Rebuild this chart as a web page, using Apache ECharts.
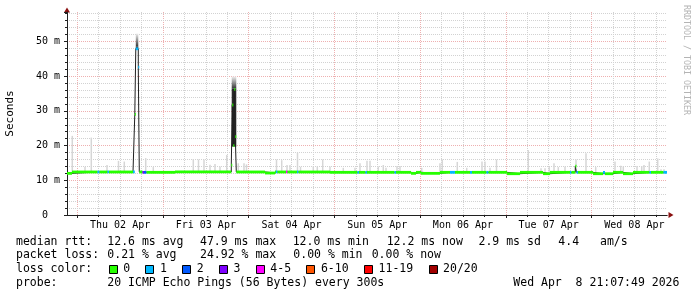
<!DOCTYPE html>
<html><head><meta charset="utf-8">
<script src="https://cdn.jsdelivr.net/npm/echarts@6/dist/echarts.min.js"></script>
<style>html,body{margin:0;padding:0;background:#fff;}#c{width:697px;height:297px;}</style>
</head><body><div id="c"></div>
<script>
// ---------------- DATA ----------------
// time unit: hours since the graph start (Wed Apr 1 2026 21:07:49), 7 days shown
const graphStart = [2026, 3, 1, 21, 7, 49];
const spanHours = 168;
const dayLabels = ['Thu 02 Apr','Fri 03 Apr','Sat 04 Apr','Sun 05 Apr','Mon 06 Apr','Tue 07 Apr','Wed 08 Apr'];
const yTicks = [0, 10, 20, 30, 40, 50];
const yTickLabels = ['0  ', '10 m', '20 m', '30 m', '40 m', '50 m'];
const yMax = 58.5;

// median rtt (ms): each entry holds from its hour until the next entry
const medianHours = [0.00,1.40,8.54,9.10,11.34,11.76,18.48,18.98,19.26,19.96,20.24,21.14,21.56,22.26,30.24,
  46.00,46.28,46.56,46.84,47.12,47.40,55.44,58.24,58.52,58.94,61.32,61.74,64.40,64.82,73.64,81.34,81.76,83.58,84.00,
  91.70,92.12,96.32,97.72,99.12,104.44,107.24,108.64,112.84,113.40,117.46,118.02,123.20,126.84,133.28,135.24,
  140.84,141.26,142.32,142.66,143.08,147.28,150.08,150.64,152.88,155.68,158.48,163.10,163.52,167.02];
const medianValues = [12.0,12.4,12.4,12.4,12.4,12.4,12.4,29.0,47.9,42.6,12.4,12.3,12.3,12.3,12.4,
  14.4,31.7,20.0,36.2,22.6,12.4,12.1,12.4,12.4,12.4,12.4,12.4,12.4,12.4,12.3,12.3,12.3,12.3,12.3,
  12.3,12.3,12.0,12.3,12.0,12.3,12.3,12.3,12.3,12.3,12.3,12.3,11.9,12.3,11.9,12.3,
  12.3,12.3,14.1,12.3,12.3,11.9,12.3,11.9,12.3,11.9,12.3,12.3,12.3,12.3];
// loss class index (0:"0",1:"1",2:"2",3:"3",4:"4-5",...)
const medianLoss = [0,0,1,0,1,0,1,0,1,1,0,3,2,0,0,
  0,0,0,0,0,0,0,0,1,0,4,0,1,0,0,1,0,1,0,
  1,0,0,0,0,0,1,0,1,0,1,0,0,0,0,0,
  1,0,0,1,0,0,1,0,0,0,0,1,0,1];

// light smoke: max ping (ms) at a few samples
const smokeHours = [1.48,5.04,6.80,11.2,14.42,16.04,22.04,24.16,35.36,36.82,38.36,40.04,41.44,42.84,44.72,47.96,49.56,50.26,
  58.66,60.12,61.6,62.44,64.54,65.38,68.96,70.08,71.6,73.64,77.36,80.64,82.04,84.0,84.84,87.16,88.56,89.32,92.4,93.24,
  99.32,104.44,105.08,109.28,111.92,116.2,117.04,118.44,120.26,129.16,132.72,133.84,135.04,136.36,137.56,139.44,
  142.52,145.32,148.04,153.44,155.04,155.76,159.6,160.92,161.56,163.04,165.4,166.32,167.16];
const smokeTop = [22.8,13.9,22.3,14.4,15.6,15.4,16.4,13.8,16.1,16.0,16.0,14.5,14.7,14.0,17.3,14.9,14.9,14.6,
  16.0,15.8,14.4,14.4,18.0,13.9,14.0,14.0,16.0,14.0,13.6,13.6,14.9,15.6,15.6,14.0,14.4,13.6,14.1,14.1,
  13.6,14.9,16.0,15.3,13.6,15.4,15.4,13.6,16.0,18.7,13.5,13.5,13.8,14.9,13.8,14.0,
  16.0,17.8,13.8,15.4,14.2,14.0,14.1,14.1,14.4,15.4,16.3,13.2,13.2];

// bursts of high latency: dense smoke from low to dense, thinning out to high
const burstStart = [19.26, 46.12];
const burstEnd = [19.96, 47.40];
const burstLow = [47.9, 19.7];
const burstDense = [48.6, 36.5];
const burstHigh = [52.3, 39.9];

const lossLabels = ['0','1','2','3','4-5','6-10','11-19','20/20'];
const lossColors = ['#26ff00','#00b8ff','#0059ff','#7e00ff','#ff00ff','#ff5500','#ff0000','#a10000'];

const rttRow = ['median rtt:','12.6 ms avg','47.9 ms max','12.0 ms min','12.2 ms now','2.9 ms sd','4.4','am/s'];
const lossRow = ['packet loss:','0.21 % avg','24.92 % max','0.00 % min','0.00 % now'];
const lossColorTitle = 'loss color:';
const probeRow = ['probe:','20 ICMP Echo Pings (56 Bytes) every 300s'];
const stampText = 'Wed Apr  8 21:07:49 2026';
const yTitle = 'Seconds';
const watermark = 'RRDTOOL / TOBI OETIKER';

// ---------------- BUILD ----------------
const startMs = new Date(...graphStart).getTime();
const hoursOf = d => (d.getTime() - startMs) / 3600000;
const midnights = [], sixHours = [], noons = [];
for (let d = 1; d <= 9; d++) {
  for (let hr = 0; hr < 24; hr += 6) {
    const h = hoursOf(new Date(2026, 3, d, hr, 0, 0));
    if (h <= 0 || h >= spanHours) continue;
    if (hr === 0) midnights.push(h); else sixHours.push(h);
    if (hr === 12) noons.push(h);
  }
}
function medianAt(h) {
  let v = medianValues[0];
  for (let i = 0; i < medianHours.length; i++) { if (medianHours[i] <= h) v = medianValues[i]; }
  return v;
}
const medianSegs = medianHours.map((h, i) => [h, i + 1 < medianHours.length ? medianHours[i + 1] : spanHours, medianValues[i], medianLoss[i]]);
const medianLine = medianHours.map((h, i) => [h, medianValues[i]]).concat([[spanHours, medianValues[medianValues.length - 1]]]);
const smokeData = smokeHours.map((h, i) => [h, medianAt(h), smokeTop[i]]);
const burstData = burstStart.map((s, i) => [s, burstEnd[i], burstLow[i], burstDense[i], burstHigh[i]]);

const MONO = '"DejaVu Sans Mono", monospace';
const AX = '#202020', ARROW = '#8a1010', GRIDC = '#d2d2d2', MGRIDC = '#eeb0b0';

const chart = echarts.init(document.getElementById('c'), null, {renderer: 'canvas', width: 697, height: 297});

const option = {
  animation: false,
  backgroundColor: '#ffffff',
  grid: {left: 67, right: 30, top: 12, bottom: 82, containLabel: false},
  xAxis: [
    {type: 'value', min: 0, max: spanHours, position: 'bottom', z: 1,
     axisLine: {show: true, onZero: false, lineStyle: {color: AX, width: 1}},
     axisTick: {show: true, customValues: sixHours, length: 2, lineStyle: {color: AX}},
     axisLabel: {show: true, customValues: noons, margin: 5, color: '#000', fontFamily: MONO, fontSize: 10,
       formatter: v => dayLabels[Math.round((v - noons[0]) / 24)] || ''},
     splitLine: {show: true, lineStyle: {color: GRIDC, type: [1, 1], width: 1}}},
    {type: 'value', min: 0, max: spanHours, position: 'bottom', z: 0,
     axisLine: {show: true, onZero: false, symbol: ['none', 'triangle'], symbolSize: [6, 5], symbolOffset: [0, 4], lineStyle: {color: ARROW, width: 1}},
     axisTick: {show: true, customValues: midnights, length: 3, lineStyle: {color: AX}},
     axisLabel: {show: false},
     splitLine: {show: true, lineStyle: {color: MGRIDC, type: [1, 1], width: 1}}}
  ],
  yAxis: [
    {type: 'value', min: 0, max: yMax, interval: 10, position: 'left', z: 1,
     axisLine: {show: true, onZero: false, lineStyle: {color: AX, width: 1}},
     axisTick: {show: true, length: 3, lineStyle: {color: AX}},
     minorTick: {show: true, splitNumber: 5, length: 2, lineStyle: {color: AX}},
     axisLabel: {margin: 7, color: '#000', fontFamily: MONO, fontSize: 10, showMaxLabel: false,
       formatter: v => { const i = yTicks.indexOf(v); return i >= 0 ? yTickLabels[i] : ''; }},
     splitLine: {show: true, showMinLine: false, showMaxLine: false, lineStyle: {color: MGRIDC, type: [1, 1], width: 1}},
     minorSplitLine: {show: true, lineStyle: {color: GRIDC, type: [1, 1], width: 1}}},
    {type: 'value', min: 0, max: yMax, position: 'left', z: 0,
     axisLine: {show: true, onZero: false, symbol: ['none', 'triangle'], symbolSize: [6, 5], symbolOffset: [0, 2], lineStyle: {color: ARROW, width: 1}},
     axisTick: {show: false}, axisLabel: {show: false}, splitLine: {show: false}}
  ],
  series: [
    {type: 'custom', name: 'smoke', xAxisIndex: 0, yAxisIndex: 0, clip: true, z: 2,
     data: smokeData, encode: {x: 0, y: [1, 2]},
     renderItem: (p, api) => {
       const a = api.coord([api.value(0), api.value(1)]);
       const b = api.coord([api.value(0), api.value(2)]);
       return {type: 'rect', shape: {x: a[0] - 0.75, y: b[1], width: 1.5, height: a[1] - b[1]}, style: {fill: '#d6d6d6'}};
     }},
    {type: 'custom', name: 'burst', xAxisIndex: 0, yAxisIndex: 0, clip: true, z: 2,
     data: burstData, encode: {x: [0, 1], y: [2, 3, 4]},
     renderItem: (p, api) => {
       const s = api.coord([api.value(0), api.value(2)]);
       const e = api.coord([api.value(1), api.value(3)]);
       const t = api.coord([api.value(1), api.value(4)]);
       return {type: 'group', children: [
         {type: 'rect', shape: {x: s[0], y: e[1], width: e[0] - s[0], height: s[1] - e[1]}, style: {fill: '#2a2a2a'}},
         {type: 'rect', shape: {x: s[0], y: t[1], width: e[0] - s[0], height: e[1] - t[1]},
          style: {fill: new echarts.graphic.LinearGradient(0, 0, 0, 1, [{offset: 0, color: '#f0f0f0'}, {offset: 1, color: '#3a3a3a'}])}}
       ]};
     }},
    {type: 'line', name: 'median', xAxisIndex: 0, yAxisIndex: 0, data: medianLine, step: 'end', showSymbol: false, symbol: 'none',
     lineStyle: {color: '#202020', width: 1}, z: 3, silent: true},
    {type: 'custom', name: 'median loss', xAxisIndex: 0, yAxisIndex: 0, clip: true, z: 4,
     data: medianSegs, encode: {x: [0, 1], y: 2},
     renderItem: (p, api) => {
       const a = api.coord([api.value(0), api.value(2)]);
       const b = api.coord([api.value(1), api.value(2)]);
       return {type: 'rect', shape: {x: a[0], y: a[1] - 1.4, width: b[0] - a[0], height: 2.8}, style: {fill: lossColors[api.value(3)]}};
     }}
  ],
  graphic: []
};

// ----- text / legend layout -----
const g = [];
const txt = (text, x, y, size, extra) => Object.assign({type: 'text', x: x, y: y, silent: true,
  style: {text: text, fill: '#000', font: size + 'px ' + MONO, align: 'left', verticalAlign: 'middle', textAlign: 'left', textVerticalAlign: 'middle'}}, extra || {});
const rowY = [241.7, 255, 269.3, 282.7];
const rttX = [16, 107.3, 200, 292.7, 386.7, 478.5, 558.3, 600];
rttRow.forEach((t, i) => g.push(txt(t, rttX[i], rowY[0], 11.5)));
const lossX = [16, 107.3, 200, 293.3, 371.7];
lossRow.forEach((t, i) => g.push(txt(t, lossX[i], rowY[1], 11.5)));
g.push(txt(lossColorTitle, 16, rowY[2], 11.5));
let lx = 108.7;
lossLabels.forEach((lab, i) => {
  g.push({type: 'rect', silent: true, shape: {x: Math.round(lx) + 0.5, y: 265.5, width: 8, height: 8}, style: {fill: lossColors[i], stroke: '#000', lineWidth: 1}});
  g.push(txt(lab, lx + 14.6, rowY[2], 11.5));
  lx += 14.6 + lab.length * 6.95 + 15.2;
});
g.push(txt(probeRow[0], 16, rowY[3], 11.5));
g.push(txt(probeRow[1], 107.3, rowY[3], 11.5));
g.push(txt(stampText, 513.3, rowY[3], 11.5));
const yt = txt(yTitle, 10.5, 113.5, 11, {rotation: Math.PI / 2});
yt.style.align = 'center'; yt.style.textAlign = 'center';
g.push(yt);
const wm = txt(watermark, 686, 5, 8.3, {rotation: -Math.PI / 2});
wm.style.fill = '#b4b4b4';
g.push(wm);
option.graphic = g;

chart.setOption(option);
</script>
</body></html>
